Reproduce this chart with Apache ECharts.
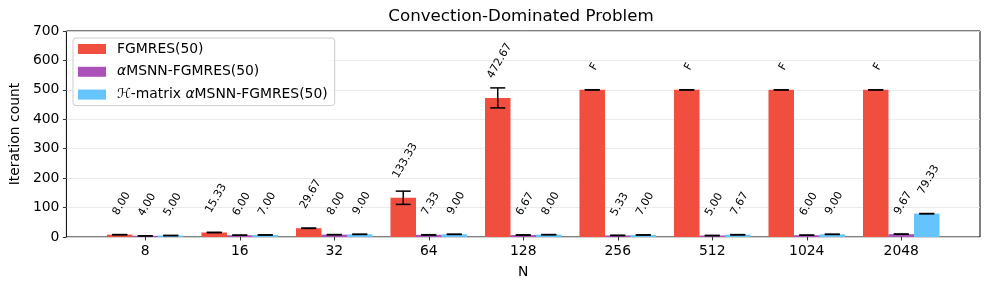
<!DOCTYPE html>
<html><head><meta charset="utf-8">
<script src="https://cdn.jsdelivr.net/npm/echarts@6/dist/echarts.min.js"></script>
<style>html,body{margin:0;padding:0;background:#fff}#c{width:989px;height:290px}</style>
</head><body><div id="c"></div>
<script>
const categories = ['8','16','32','64','128','256','512','1024','2048'];
const seriesNames = ['FGMRES(50)','αMSNN-FGMRES(50)','ℋ-matrix αMSNN-FGMRES(50)'];
const fgmres = [8, 15.33, 29.67, 133.33, 472.67, 500, 500, 500, 500];
const fgmresErr = [0, 0.47, 0.47, 22.5, 34, 0, 0, 0, 0];
const fgmresLabels = ['8.00','15.33','29.67','133.33','472.67','F','F','F','F'];
const msnn = [4, 6, 8, 7.33, 6.67, 5.33, 5, 6, 9.67];
const msnnErr = [0, 0, 0, 0.47, 0.47, 0.47, 0, 0, 0.47];
const msnnLabels = ['4.00','6.00','8.00','7.33','6.67','5.33','5.00','6.00','9.67'];
const hmat = [5, 7, 9, 9, 8, 7, 7.67, 9, 79.33];
const hmatErr = [0, 0, 0, 0, 0, 0, 0.47, 0, 0.47];
const hmatLabels = ['5.00','7.00','9.00','9.00','8.00','7.00','7.67','9.00','79.33'];
const yTicks = [0,100,200,300,400,500,600,700];

const colors = ['#f04e3e','#ab52ba','#66c4fc'];
const FONT = 'DejaVu Sans';
const values = [fgmres, msnn, hmat];
const errs = [fgmresErr, msnnErr, hmatErr];
const labels = [fgmresLabels, msnnLabels, hmatLabels];
const BARFRAC = 0.27;
const LABEL_OFFSET = 60; // data units above bar top

const cv = document.createElement('canvas').getContext('2d');
cv.font = '11px "' + FONT + '"';
function tw(t){ return cv.measureText(t).width; }

const chart = echarts.init(document.getElementById('c'), null, {renderer:'canvas'});

const barSeries = seriesNames.map((n, s) => ({
  name: n, type: 'bar', xAxisIndex: 0, yAxisIndex: 0,
  barWidth: (BARFRAC*100) + '%', barGap: '0%',
  itemStyle: {color: colors[s]},
  data: values[s], z: 2, animation: false
}));

const errSeries = seriesNames.map((n, s) => ({
  type: 'custom', xAxisIndex: 0, yAxisIndex: 0, z: 5, animation: false, silent: true,
  data: values[s].map((v, i) => [i, v, errs[s][i]]),
  renderItem: function(params, api){
    const i = api.value(0), v = api.value(1), e = api.value(2);
    const band = api.size([1, 0])[0];
    const bw = BARFRAC * band;
    const x = api.coord([i, 0])[0] + (s - 1) * bw;
    const yHi = api.coord([i, v + e])[1];
    const yLo = api.coord([i, v - e])[1];
    const cap = 7.5;
    const st = {stroke: '#000', lineWidth: 1.5};
    const children = [];
    if (e > 0) children.push({type:'line', shape:{x1:x,y1:yLo,x2:x,y2:yHi}, style: st});
    children.push({type:'line', shape:{x1:x-cap,y1:yHi,x2:x+cap,y2:yHi}, style: st});
    children.push({type:'line', shape:{x1:x-cap,y1:yLo,x2:x+cap,y2:yLo}, style: st});
    const txt = labels[s][params.dataIndex];
    const w = tw(txt), h = 11;
    const H = w*Math.sin(Math.PI/3) + h*Math.cos(Math.PI/3);
    const yb = api.coord([i, v + LABEL_OFFSET])[1];
    children.push({type:'text', x: x + 2, y: yb - H/2, rotation: Math.PI/3,
      style:{text: txt, align:'center', verticalAlign:'middle', fill:'#000',
        font: '11px "' + FONT + '"'}});
    return {type:'group', children: children};
  }
}));

const option = {
  animation: false,
  backgroundColor: '#fff',
  textStyle: {fontFamily: FONT},
  grid: [
    {left: 98, right: 40.5, top: 31, bottom: 53, show: false},
    {left: 62, right: 9, top: 31, bottom: 53, show: true, borderColor: '#000', borderWidth: 1, backgroundColor: 'transparent'}
  ],
  xAxis: [
    {type:'category', gridIndex:0, data: categories,
      axisLine:{show:false}, axisTick:{show:true, alignWithLabel:true, length:3.5, lineStyle:{color:'#000', width:0.8}},
      axisLabel:{color:'#000', fontSize:13.9, fontFamily:FONT, margin:7}, splitLine:{show:false}},
    {type:'value', gridIndex:1, min:0, max:1, show:true, name:'N', nameLocation:'middle', nameGap:28,
      nameTextStyle:{color:'#000', fontSize:13.9, fontFamily:FONT},
      axisLine:{show:false}, axisTick:{show:false}, axisLabel:{show:false}, splitLine:{show:false}}
  ],
  yAxis: [
    {type:'value', gridIndex:0, min:0, max:700, interval:100, show:false},
    {type:'value', gridIndex:1, min:yTicks[0], max:yTicks[yTicks.length-1], interval:100,
      name:'Iteration count', nameLocation:'middle', nameGap:40,
      nameTextStyle:{color:'#000', fontSize:13.9, fontFamily:FONT},
      axisLine:{show:false}, axisTick:{show:true, length:3.5, lineStyle:{color:'#000', width:0.8}},
      axisLabel:{color:'#000', fontSize:13.9, fontFamily:FONT, margin:7},
      splitLine:{show:true, lineStyle:{color:'#e6e6e6', width:0.8}}}
  ],
  legend: {
    data: seriesNames, left: 73, top: 38, orient:'vertical', icon:'rect',
    itemWidth: 28, itemHeight: 10, itemGap: 8.8,
    padding: [4, 7, 4, 5],
    backgroundColor: 'rgba(255,255,255,0.8)', borderColor:'#cccccc', borderWidth:1, borderRadius:3,
    formatter: function(n){
      if (n === seriesNames[0]) return '{n|FGMRES(50)}';
      if (n === seriesNames[1]) return '{a|α}{n|MSNN-FGMRES(50)}';
      return '{a|ℋ}{n|-matrix }{a|α}{n|MSNN-FGMRES(50)}';
    },
    textStyle: {color:'#000', fontSize:13.9, fontFamily:FONT, lineHeight:14, padding:[0,0,0,6],
      rich: {
        n: {color:'#000', fontSize:13.9, fontFamily:FONT, lineHeight:14},
        a: {color:'#000', fontSize:13.9, fontFamily:FONT, fontStyle:'italic', lineHeight:14}
      }}
  },
  graphic: [
    {type:'text', x: 521, y: 17, style:{text:'Convection-Dominated Problem', align:'center', verticalAlign:'middle',
      fill:'#000', font:'16.7px "' + FONT + '"'}}
  ],
  series: barSeries.concat(errSeries)
};
chart.setOption(option);
</script>
</body></html>
